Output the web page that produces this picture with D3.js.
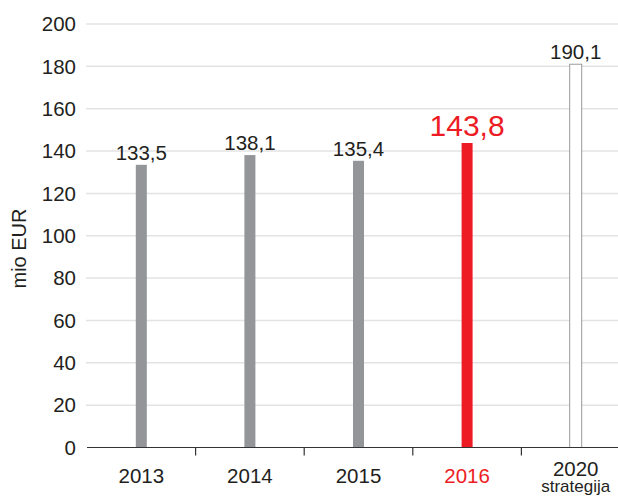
<!DOCTYPE html>
<html>
<head>
<meta charset="utf-8">
<script src="https://cdn.jsdelivr.net/npm/d3@7"></script>
<style>
  html, body { margin: 0; padding: 0; background: #fff; }
  svg { display: block; font-family: "Liberation Sans", Arial, sans-serif; }
</style>
</head>
<body>
<svg id="chart" width="618" height="497"></svg>
<script>
const categories = ["2013", "2014", "2015", "2016", "2020"];
const categorySubLabels = ["", "", "", "", "strategija"];
const barValues = [133.5, 138.1, 135.4, 143.8, 181];
const valueLabels = ["133,5", "138,1", "135,4", "143,8", "190,1"];
const yTicks = [0, 20, 40, 60, 80, 100, 120, 140, 160, 180, 200];
const yTitle = "mio EUR";

(function () {
const svg = d3.select("#chart");
const W = 618, H = 497;
const mLeft = 87, mRight = 630, mTop = 24, mBottom = 447.5;
const textColor = "#231f20";
const red = "#ed1c24";
const gray = "#939598";

const x = d3.scaleBand().domain(categories).range([mLeft, mRight]).paddingInner(0).paddingOuter(0);
const y = d3.scaleLinear().domain([0, 200]).range([mBottom, mTop]);

// gridlines
svg.append("g").selectAll("line").data(yTicks.filter(d => d > 0)).join("line")
  .attr("x1", 86).attr("x2", W)
  .attr("y1", d => y(d)).attr("y2", d => y(d))
  .attr("stroke", "#e3e3e3").attr("stroke-width", 1.5);

// y tick labels
svg.append("g").selectAll("text").data(yTicks).join("text")
  .attr("x", 76).attr("y", d => y(d))
  .attr("dy", "0.35em")
  .attr("text-anchor", "end")
  .attr("font-size", 20.5)
  .attr("fill", textColor)
  .text(d => d);

// y title
svg.append("text")
  .attr("transform", `translate(26,248.5) rotate(-90)`)
  .attr("text-anchor", "middle")
  .attr("font-size", 20)
  .attr("fill", textColor)
  .text(yTitle);

// bars
const bw = 11;
svg.append("g").selectAll("rect").data(categories).join("rect")
  .attr("x", (d, i) => x(d) + x.bandwidth() / 2 - bw / 2 + (i === 4 ? -0.5 : 0))
  .attr("y", (d, i) => y(barValues[i]))
  .attr("width", (d, i) => i === 4 ? 12 : bw)
  .attr("height", (d, i) => mBottom - y(barValues[i]))
  .attr("fill", (d, i) => i === 3 ? red : (i === 4 ? "#fff" : gray))
  .attr("stroke", (d, i) => i === 4 ? "#9a9a9a" : "none")
  .attr("stroke-width", 1);

// x axis
const xAxis = d3.axisBottom(x).tickSize(0).tickFormat("");
const gx = svg.append("g").attr("transform", `translate(0,${mBottom})`).call(xAxis);
gx.select(".domain").attr("stroke", "#333").attr("stroke-width", 1.2).attr("d", `M${mLeft},0H${W}`);
// ticks between bands
svg.append("g").selectAll("line").data(categories.slice(1)).join("line")
  .attr("x1", d => x(d)).attr("x2", d => x(d))
  .attr("y1", mBottom).attr("y2", mBottom + 8)
  .attr("stroke", "#333").attr("stroke-width", 1.2);

// x labels
svg.append("g").selectAll("text").data(categories).join("text")
  .attr("x", d => x(d) + x.bandwidth() / 2)
  .attr("y", (d, i) => i === 4 ? 475.5 : 482.5)
  .attr("text-anchor", "middle")
  .attr("font-size", 20.5)
  .attr("fill", (d, i) => i === 3 ? red : textColor)
  .text(d => d);
svg.append("g").selectAll("text").data(categories.filter((d, i) => categorySubLabels[i])).join("text")
  .attr("x", d => x(d) + x.bandwidth() / 2)
  .attr("y", 492)
  .attr("text-anchor", "middle")
  .attr("font-size", 17)
  .attr("fill", textColor)
  .text(d => categorySubLabels[categories.indexOf(d)]);

// value labels
svg.append("g").selectAll("text").data(categories).join("text")
  .attr("x", d => x(d) + x.bandwidth() / 2)
  .attr("y", (d, i) => y(barValues[i]) - (i === 3 ? 7 : 5))
  .attr("text-anchor", "middle")
  .attr("font-size", (d, i) => i === 3 ? 30 : 20.5)
  .attr("fill", (d, i) => i === 3 ? red : textColor)
  .text((d, i) => valueLabels[i]);
})();
</script>
</body>
</html>
